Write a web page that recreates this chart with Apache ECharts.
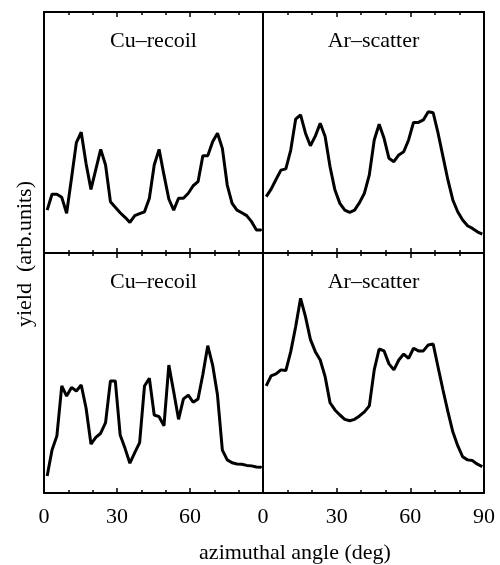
<!DOCTYPE html>
<html><head><meta charset="utf-8">
<script src="https://cdn.jsdelivr.net/npm/echarts@6/dist/echarts.min.js"></script>
<style>html,body{margin:0;padding:0;background:#fff}#c{width:500px;height:565px}</style>
</head><body><div id="c"></div><script>
// azimuthal angle sampling (deg)
const angles = [1.3,3.3,5.3,7.3,9.3,11.3,13.3,15.3,17.3,19.3,21.3,23.3,25.3,27.3,29.3,31.3,33.3,35.3,37.3,39.3,41.3,43.3,45.3,47.3,49.3,51.3,53.3,55.3,57.3,59.3,61.3,63.3,65.3,67.3,69.3,71.3,73.3,75.3,77.3,79.3,81.3,83.3,85.3,87.3,89.3];
// yields (arb. units)
const cuTop = [17.8,24.4,24.4,23.1,16.5,31,45.8,50.1,37,26.4,34.7,43.0,36.5,21.3,19.0,16.7,14.8,12.7,15.5,16.3,17.1,22.7,36.5,43.0,32.4,22.4,17.8,22.7,22.7,24.8,27.9,29.6,40.4,40.4,46.2,49.7,43.4,28.2,20.6,17.8,16.7,15.5,13.0,9.5,9.5];
const arTop = [23.4,26.5,30.5,34.4,34.9,42.7,55.5,57.3,49.7,44.5,48.5,53.8,48.3,35.8,26.1,20.6,17.8,16.9,17.8,20.9,24.8,32.4,46.9,53.4,47.6,39.3,37.9,40.7,42.0,46.9,54.2,54.2,55.2,58.6,58.2,49.7,40.0,30.3,22.0,17.1,13.7,11.3,10.2,8.8,7.8];
const cuBottom = [7.1,17.9,23.8,44.6,40.4,44.0,42.5,45.0,35.3,20.4,23.2,24.9,29.3,46.7,46.7,24.2,18.6,12.4,16.8,21.0,44.6,47.8,32.5,31.8,28.0,53.3,42.2,30.7,39.2,40.8,37.8,39.2,49.5,61.4,53.3,40.8,17.9,13.8,12.6,12.1,12.0,11.5,11.3,10.8,10.7];
const arBottom = [44.6,48.8,49.6,51.3,51.0,58.9,69.3,81.1,73.5,64.0,58.9,55.4,48.5,37.6,34.6,32.5,30.7,30.1,30.7,32.1,33.8,36.3,51.3,60.0,59.2,53.8,51.3,55.4,57.9,56.1,60.3,59.2,59.2,61.7,62.1,52.4,42.9,33.9,25.5,19.7,15.1,13.8,13.5,12.0,11.0];
const panelTitles = ['Cu–recoil','Ar–scatter','Cu–recoil','Ar–scatter'];
const xAxisName = 'azimuthal angle (deg)';
const yAxisName = 'yield  (arb.units)';
const baseTick = [9.5, 9.5, 10.8, 10.8];

const seriesData = [cuTop, arTop, cuBottom, arBottom];
const grids = [
  {left:44, top:12, width:219, height:241},
  {left:263, top:12, width:221, height:241},
  {left:44, top:253, width:219, height:240},
  {left:263, top:253, width:221, height:240}
];
const FONT = '"Liberation Serif", "DejaVu Serif", serif';
const line = {show:true, onZero:false, lineStyle:{color:'#000', width:2}};

const xAxes = [], yAxes = [], series = [];
grids.forEach((g, i) => {
  const isBottom = i >= 2, isLeft = (i % 2 === 0);
  ['bottom','top'].forEach(pos => {
    xAxes.push({
      type:'value', gridIndex:i, position:pos, min:0, max:90, interval:30,
      axisLine: line,
      axisTick:{show:true, inside:true, length:5, lineStyle:{color:'#000', width:1.5}},
      minorTick:{show:true, splitNumber:3, length:3, lineStyle:{color:'#000', width:1.5}},
      splitLine:{show:false}, minorSplitLine:{show:false},
      axisLabel:{show: isBottom && pos==='bottom', margin:13, color:'#000', fontFamily:FONT, fontSize:22,
        showMaxLabel: !isLeft, showMinLabel:true}
    });
  });
  ['left','right'].forEach(pos => {
    const tickSide = (!isLeft && pos==='left');
    yAxes.push({
      type:'value', gridIndex:i, position:pos, min:0, max:100,
      axisLine: line,
      axisTick: tickSide ? {show:true, inside:false, length:3, customValues:[baseTick[i]], lineStyle:{color:'#000', width:1.5}} : {show:false},
      axisLabel:{show:false}, splitLine:{show:false}
    });
  });
  series.push({
    type:'line', xAxisIndex:i*2, yAxisIndex:i*2, symbol:'none', silent:true,
    lineStyle:{color:'#000', width:3}, z:3,
    data: angles.map((a, k) => [a, seriesData[i][k]])
  });
});

const graphic = [];
grids.forEach((g, i) => {
  graphic.push({type:'text', x: g.left + g.width/2, y: g.top + 29,
    style:{text: panelTitles[i], fill:'#000', font:'22px ' + FONT, textAlign:'center', textVerticalAlign:'middle'}});
});
graphic.push({type:'text', x:295, y:553, style:{text:xAxisName, fill:'#000', font:'22px ' + FONT, textAlign:'center', textVerticalAlign:'middle'}});
graphic.push({type:'text', x:25, y:254, rotation:Math.PI/2, style:{text:yAxisName, fill:'#000', font:'22px ' + FONT, textAlign:'center', textVerticalAlign:'middle'}});

const chart = echarts.init(document.getElementById('c'), null, {renderer:'canvas'});
chart.setOption({
  animation:false,
  backgroundColor:'#fff',
  grid: grids.map(g => Object.assign({containLabel:false, show:false}, g)),
  xAxis: xAxes, yAxis: yAxes, series, graphic
});
</script></body></html>
